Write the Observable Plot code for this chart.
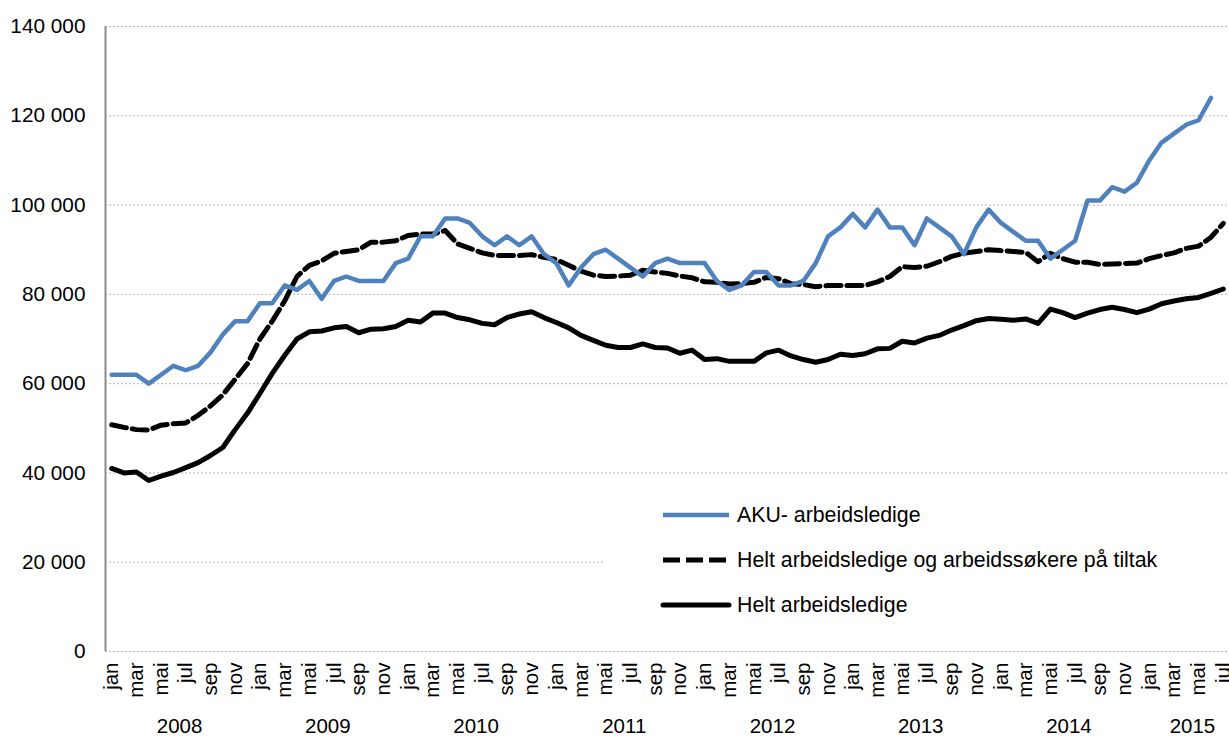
<!DOCTYPE html>
<html>
<head>
<meta charset="utf-8">
<script src="https://cdn.jsdelivr.net/npm/d3@7"></script>
<script src="https://cdn.jsdelivr.net/npm/@observablehq/plot@0.6"></script>
<style>
  html, body { margin: 0; padding: 0; background: #fff; }
  #wrap { position: relative; width: 1229px; height: 736px; font-family: "Liberation Sans", Arial, sans-serif; }
  #legend { position: absolute; left: 605px; top: 482px; width: 624px; height: 158px; background: #fff; }
</style>
</head>
<body>
<div id="wrap">
  <div id="chart"></div>
  <svg id="legend" width="624" height="158"></svg>
</div>
<script>
// Month names shown on the axis (every other month), and years
const monthNames = ["jan","feb","mar","apr","mai","jun","jul","aug","sep","okt","nov","des"];
const years = [2008, 2009, 2010, 2011, 2012, 2013, 2014, 2015];
const yearCenters = [5.5, 17.5, 29.5, 41.5, 53.5, 65.5, 77.5, 87.5];
const yTicks = [0, 20000, 40000, 60000, 80000, 100000, 120000, 140000];

// Series: monthly from jan 2008
const aku = [62000,62000,62000,60000,62000,64000,63000,64000,67000,71000,74000,74000,
  78000,78000,82000,81000,83000,79000,83000,84000,83000,83000,83000,87000,
  88000,93000,93000,97000,97000,96000,93000,91000,93000,91000,93000,89000,
  87000,82000,86000,89000,90000,88000,86000,84000,87000,88000,87000,87000,
  87000,83000,81000,82000,85000,85000,82000,82000,83000,87000,93000,95000,
  98000,95000,99000,95000,95000,91000,97000,95000,93000,89000,95000,99000,
  96000,94000,92000,92000,88000,90000,92000,101000,101000,104000,103000,105000,
  110000,114000,116000,118000,119000,124000];

const heltTiltak = [50800,50200,49700,49600,50700,51000,51200,52900,55000,57500,61000,64500,
  70000,74000,78500,84000,86500,87500,89200,89600,90000,91700,91700,92000,
  93200,93500,93500,94300,91300,90300,89300,88700,88700,88700,88900,88300,
  87800,86500,85200,84300,84000,84100,84300,85400,85000,84700,84100,83700,
  82800,82700,82300,82400,82700,83800,83500,82400,82200,81700,82000,82000,
  82000,82000,82800,84000,86200,86000,86300,87300,88500,89200,89600,90000,
  89800,89600,89400,87300,89200,88000,87200,87200,86700,86800,86900,87000,
  88000,88700,89300,90300,90800,92800,95900];

const helt = [41000,40000,40200,38300,39300,40100,41200,42300,43900,45700,49700,53400,
  57800,62300,66300,70000,71600,71800,72500,72800,71400,72200,72300,72800,
  74200,73800,75800,75800,74800,74300,73500,73200,74800,75600,76100,74800,
  73700,72500,70800,69700,68600,68100,68100,68900,68100,68000,66800,67500,
  65400,65600,65000,65000,65000,66900,67500,66200,65400,64800,65400,66600,
  66300,66700,67800,67900,69500,69100,70200,70800,72000,73000,74100,74600,
  74400,74200,74500,73500,76700,75900,74800,75800,76600,77100,76600,75900,
  76700,77900,78500,79000,79300,80200,81200];

const seriesNames = ["AKU- arbeidsledige", "Helt arbeidsledige og arbeidssøkere på tiltak", "Helt arbeidsledige"];

const nMonths = helt.length; // 91 (jan 2008 – jul 2015)
const monthIdx = d3.range(nMonths);
const labelIdx = monthIdx.filter(i => i % 2 === 0);

const fmt = v => d3.format(",")(v).replace(/,/g, " ");

const akuData = aku.map((v, i) => ({i, v}));
const tiltakData = heltTiltak.map((v, i) => ({i, v}));
const heltData = helt.map((v, i) => ({i, v}));

const chart = Plot.plot({
  width: 1229,
  height: 736,
  marginLeft: 105,
  marginRight: 0,
  marginTop: 26,
  marginBottom: 85,
  style: {fontFamily: "'Liberation Sans', Arial, sans-serif", background: "#fff", overflow: "visible"},
  x: {type: "linear", domain: [-0.5, nMonths - 0.5], axis: null},
  y: {domain: [0, 140000], axis: null},
  marks: [
    Plot.ruleY(yTicks, {stroke: "#b4b4b4", strokeWidth: 1, strokeDasharray: "2,2"}),
    Plot.ruleX([-0.5], {stroke: "#8c8c8c", strokeWidth: 2}),
    Plot.line(heltData, {x: "i", y: "v", stroke: "#000", strokeWidth: 5, strokeLinejoin: "round", strokeLinecap: "round"}),
    Plot.line(tiltakData, {x: "i", y: "v", stroke: "#000", strokeWidth: 5, strokeDasharray: "15,6", strokeLinejoin: "round"}),
    Plot.line(akuData, {x: "i", y: "v", stroke: "#4F81BD", strokeWidth: 4.5, strokeLinejoin: "round", strokeLinecap: "round"}),
    Plot.text(yTicks, {x: -0.5, y: d => d, text: d => fmt(d), textAnchor: "end", dx: -20, fontSize: 20.8, fill: "#000"}),
    Plot.text(labelIdx, {x: d => d, y: 0, text: d => monthNames[d % 12], rotate: -90, textAnchor: "end", dy: 11, fontSize: 20.5, fill: "#000"}),
    Plot.text(years, {x: (d, i) => yearCenters[i], y: 0, text: d => String(d), dy: 75, fontSize: 20.5, fill: "#000"})
  ]
});
document.getElementById("chart").appendChild(chart);

// Legend
const leg = d3.select("#legend");
const items = [
  {name: seriesNames[0], stroke: "#4F81BD", width: 4.5, dash: null, cap: "butt"},
  {name: seriesNames[1], stroke: "#000", width: 5, dash: "17,6", cap: "butt"},
  {name: seriesNames[2], stroke: "#000", width: 5, dash: null, cap: "round"}
];
const rowY = [33, 78, 123];
items.forEach((it, k) => {
  const g = leg.append("g");
  g.append("line").attr("x1", 58).attr("x2", 124).attr("y1", rowY[k]).attr("y2", rowY[k])
    .attr("stroke", it.stroke).attr("stroke-width", it.width)
    .attr("stroke-dasharray", it.dash).attr("stroke-linecap", it.cap);
  g.append("text").attr("x", 132).attr("y", rowY[k]).attr("dy", "0.35em")
    .attr("font-size", 21.3).attr("fill", "#000")
    .attr("font-family", "'Liberation Sans', Arial, sans-serif")
    .text(it.name);
});
</script>
</body>
</html>
